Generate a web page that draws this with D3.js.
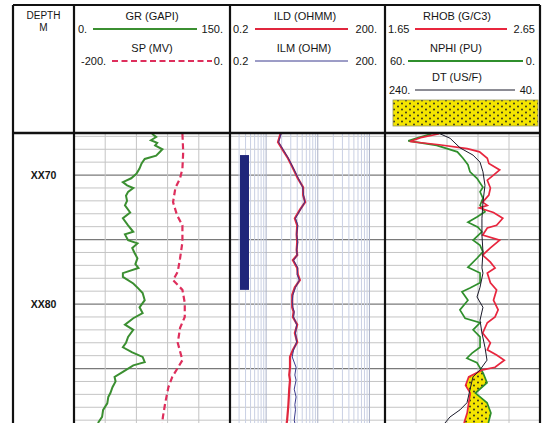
<!DOCTYPE html>
<html>
<head>
<meta charset="utf-8">
<script src="https://cdn.jsdelivr.net/npm/d3@7"></script>
<style>
  body { margin: 0; background: #fff; }
  text { font-family: "Liberation Sans", Arial, sans-serif; fill: #151515; }
</style>
</head>
<body>
<svg id="log" width="545" height="423"></svg>
<script>
// ---- Well log data (depth in metres below XX00) ----
const depthLabels = [70, 80];

const grDepth = [66.8, 67.05, 67.3, 67.5, 67.7, 68.0, 68.25, 68.5, 68.75, 69.1, 69.5, 69.9, 70.25, 70.55, 70.8, 71.0, 71.3, 71.6, 72.0, 72.35, 72.9, 73.35, 73.9, 74.4, 74.6, 75.05, 75.3, 75.65, 76.0, 76.45, 76.9, 77.2, 77.6, 77.9, 78.4, 78.8, 79.15, 79.7, 80.25, 80.7, 81.1, 81.6, 82.0, 82.55, 83.0, 83.35, 83.75, 84.1, 84.5, 84.75, 85.25, 85.65, 86.0, 86.45, 86.9, 87.2, 87.7, 88.2, 88.75, 89.22];
const grValues = [75, 79, 74, 80, 78, 85, 82, 79, 68, 65, 63, 60, 55, 47, 51, 57, 52, 50, 51, 49, 54, 47, 52, 57, 49, 52, 61, 56, 58, 61, 59, 62, 47, 47, 57, 62, 66, 68, 63, 66, 57, 49, 57, 52, 50, 47, 56, 66, 68, 57, 47, 39, 40, 37, 35, 33, 32, 28, 27, 23];

const spDepth = [66.8, 68.2, 69.5, 70.25, 71.0, 72.1, 73.1, 73.9, 75.2, 76.45, 77.5, 78.15, 78.9, 79.9, 81.0, 81.85, 83.0, 84.35, 84.95, 85.65, 86.45, 87.65, 88.75, 89.22];
const spValues = [-61, -60, -61, -64, -70, -73, -68, -61, -61, -64, -67, -73, -61, -58, -58, -64, -67, -61, -67, -74, -79, -83, -86, -87];

const resDepth = [66.8, 67.45, 68.05, 68.7, 69.45, 70.25, 70.95, 71.55, 72.1, 72.7, 73.35, 73.9, 74.6, 75.2, 75.8, 76.2, 76.6, 77.2, 77.7, 78.15, 78.7, 79.3, 79.8, 80.25, 80.6, 81.0, 81.6, 82.25, 82.95, 83.55, 84.1, 84.9, 85.5, 85.9, 86.6, 87.2, 87.8, 88.2, 89.0, 89.22];
const ildValues = [1.9, 1.7, 2.1, 2.65, 3.3, 4.1, 5.2, 5.2, 5.7, 4.5, 3.6, 4.0, 3.9, 4.0, 3.9, 4.0, 3.3, 4.0, 4.1, 4.5, 3.6, 3.2, 3.2, 3.2, 3.4, 3.3, 4.0, 3.6, 4.0, 3.3, 2.9, 2.9, 2.8, 2.9, 2.8, 2.75, 2.7, 2.65, 2.55, 2.5];
const ilmValues = [1.95, 1.75, 2.15, 2.7, 3.35, 4.2, 5.1, 5.3, 5.6, 4.6, 3.7, 4.1, 3.9, 4.1, 3.9, 4.0, 3.4, 4.1, 4.0, 4.4, 3.7, 3.3, 3.2, 3.3, 3.5, 3.4, 3.9, 3.7, 3.9, 3.4, 3.2, 3.8, 3.6, 3.8, 3.5, 3.8, 3.6, 3.7, 3.5, 3.6];

// perforated interval (top, base)
const perfInterval = [68.45, 78.9];

const rhobDepth = [66.8, 67.1, 67.4, 67.65, 67.95, 68.2, 68.7, 69.1, 69.6, 70.0, 70.4, 71.0, 71.55, 72.1, 72.35, 72.55, 72.9, 73.35, 73.9, 74.1, 74.65, 75.05, 75.65, 76.2, 76.75, 77.2, 77.6, 78.35, 78.9, 79.7, 80.45, 81.0, 81.45, 82.25, 83.0, 83.55, 83.95, 84.35, 84.9, 85.1, 85.65, 86.3, 86.9, 87.65, 88.45, 89.22];
const rhobValues = [2.0, 1.88, 1.81, 2.0, 2.18, 2.26, 2.31, 2.32, 2.39, 2.35, 2.31, 2.33, 2.32, 2.28, 2.31, 2.26, 2.35, 2.41, 2.37, 2.31, 2.28, 2.39, 2.33, 2.28, 2.33, 2.36, 2.31, 2.33, 2.37, 2.35, 2.38, 2.36, 2.31, 2.28, 2.33, 2.31, 2.37, 2.42, 2.36, 2.28, 2.19, 2.17, 2.2, 2.19, 2.18, 2.16];

const nphiDepth = [66.8, 67.1, 67.35, 67.7, 68.2, 68.7, 69.2, 69.75, 70.25, 70.95, 71.3, 71.8, 72.35, 72.85, 73.25, 73.65, 74.05, 74.4, 75.05, 75.45, 75.95, 76.45, 77.15, 77.6, 78.35, 78.75, 79.05, 79.7, 80.45, 81.1, 81.45, 82.0, 82.55, 83.35, 83.8, 84.2, 84.55, 84.95, 85.35, 86.1, 86.9, 87.65, 88.45, 89.22];
const nphiValues = [42, 47, 51, 40, 32, 29.8, 27.9, 27.1, 24.4, 22.1, 23.2, 22.1, 23.2, 21.3, 24.4, 27.9, 24.0, 22.5, 25.9, 23.2, 22.1, 24.4, 27.9, 23.2, 23.2, 27.1, 30.2, 27.9, 31.0, 29.0, 23.2, 25.9, 23.2, 23.2, 26.3, 28.3, 24.4, 23.2, 22.0, 20.5, 25, 20.5, 19.0, 20.0];

const dtDepth = [66.8, 67.15, 67.9, 68.45, 69.0, 69.75, 70.8, 72.1, 73.35, 74.65, 75.95, 77.2, 77.6, 78.7, 79.45, 80.25, 81.25, 82.25, 83.35, 84.35, 85.1, 85.65, 86.65, 87.65, 88.2, 88.75, 89.22];
const dtValues = [169, 156, 143, 126.5, 117.4, 113.6, 111, 113.6, 114.9, 114.9, 113.6, 114.9, 113.6, 117.4, 121.3, 113.6, 117.4, 114.9, 111, 108.4, 117.4, 126.5, 130.4, 134.2, 143.2, 156.1, 162.6];

// curve scale ranges (left, right)
const grRange = [0, 150];
const spRange = [-200, 0];
const resRange = [0.2, 200];
const rhobRange = [1.65, 2.65];
const nphiRange = [60, 0];
const dtRange = [240, 40];

// linear grid divisions for tracks 1 and 3
const grGrid = [30, 60, 90, 120];
const rhobGrid = [1.85, 2.05, 2.25, 2.45];

// ---- Layout ----
const svg = d3.select("#log");
const L = { left: 13, depthR: 74, t1: [74, 230], t2: [230, 385], t3: [385, 540], top: 5, head: 133, bottom: 423 };

const y = d3.scaleLinear().domain([66.74, 89.22]).range([L.head, L.bottom]);
const xGR = d3.scaleLinear().domain(grRange).range(L.t1);
const xSP = d3.scaleLinear().domain(spRange).range(L.t1);
const xRes = d3.scaleLog().domain(resRange).range(L.t2);
const xRHOB = d3.scaleLinear().domain(rhobRange).range(L.t3);
const xNPHI = d3.scaleLinear().domain(nphiRange).range(L.t3);
const xDT = d3.scaleLinear().domain(dtRange).range(L.t3);

const zip = (ds, vs) => ds.map((d, i) => ({ d, v: vs[i] }));

const defs = svg.append("defs");
[["c1", L.t1], ["c2", L.t2], ["c3", L.t3]].forEach(([id, r]) => {
  defs.append("clipPath").attr("id", id).append("rect")
    .attr("x", r[0] + 1).attr("y", L.head + 1)
    .attr("width", r[1] - r[0] - 2).attr("height", L.bottom - L.head);
});
const sand = defs.append("pattern").attr("id", "sand")
  .attr("patternUnits", "userSpaceOnUse").attr("width", 8).attr("height", 6);
sand.append("rect").attr("width", 8).attr("height", 6).attr("fill", "#f4e500");
sand.append("circle").attr("cx", 2).attr("cy", 1.5).attr("r", 0.9).attr("fill", "#222");
sand.append("circle").attr("cx", 6).attr("cy", 4.5).attr("r", 0.9).attr("fill", "#222");

svg.append("rect").attr("width", 545).attr("height", 423).attr("fill", "#fff");

// ---- Depth grid (every metre, heavier every 5 m) ----
const metres = d3.range(67, 90);
[L.t1, L.t2, L.t3].forEach(r => {
  svg.append("g").selectAll("line").data(metres).join("line")
    .attr("x1", r[0]).attr("x2", r[1])
    .attr("y1", d => y(d)).attr("y2", d => y(d))
    .attr("stroke", d => d % 5 === 0 ? "#7a7a7a" : "#c4c4c4")
    .attr("stroke-width", d => d % 5 === 0 ? 1.3 : 1);
});

// linear vertical grid
svg.append("g").selectAll("line").data(grGrid).join("line")
  .attr("x1", d => xGR(d)).attr("x2", d => xGR(d))
  .attr("y1", L.head).attr("y2", L.bottom)
  .attr("stroke", "#c4c4c4");
svg.append("g").selectAll("line").data(rhobGrid).join("line")
  .attr("x1", d => xRHOB(d)).attr("x2", d => xRHOB(d))
  .attr("y1", L.head).attr("y2", L.bottom)
  .attr("stroke", "#c4c4c4");

// logarithmic grid for resistivity
const logGrid = [];
[0.1, 1, 10, 100].forEach(k => d3.range(1, 10).forEach(m => {
  const v = +(m * k).toPrecision(3);
  if (v > resRange[0] && v < resRange[1]) logGrid.push(v);
}));
svg.append("g").selectAll("line").data(logGrid).join("line")
  .attr("x1", d => xRes(d)).attr("x2", d => xRes(d))
  .attr("y1", L.head).attr("y2", L.bottom)
  .attr("stroke", d => [1, 10, 100].includes(d) ? "#a9b1c8" : "#c9d0e4")
  .attr("stroke-width", 1);

// ---- Track 1: GR and SP ----
const t1 = svg.append("g").attr("clip-path", "url(#c1)");
t1.append("path").datum(zip(spDepth, spValues))
  .attr("d", d3.line().x(p => xSP(p.v)).y(p => y(p.d)))
  .attr("fill", "none").attr("stroke", "#de2e5c").attr("stroke-width", 2.2)
  .attr("stroke-dasharray", "6,3.5");
t1.append("path").datum(zip(grDepth, grValues))
  .attr("d", d3.line().x(p => xGR(p.v)).y(p => y(p.d)))
  .attr("fill", "none").attr("stroke", "#3b8f31").attr("stroke-width", 2);

// ---- Track 2: perforations, ILD, ILM ----
const t2 = svg.append("g").attr("clip-path", "url(#c2)");
t2.append("rect")
  .attr("x", L.t2[0] + 10).attr("width", 9)
  .attr("y", y(perfInterval[0])).attr("height", y(perfInterval[1]) - y(perfInterval[0]))
  .attr("fill", "#1f267a");
t2.append("path").datum(zip(resDepth, ildValues))
  .attr("d", d3.line().x(p => xRes(p.v)).y(p => y(p.d)))
  .attr("fill", "none").attr("stroke", "#e0263e").attr("stroke-width", 2.2);
t2.append("path").datum(zip(resDepth, ilmValues))
  .attr("d", d3.line().x(p => xRes(p.v)).y(p => y(p.d)))
  .attr("fill", "none").attr("stroke", "#3a3a8e").attr("stroke-width", 1);

// ---- Track 3: density / neutron crossover and sonic ----
function interp(ds, vs, d) {
  const i = d3.bisectLeft(ds, d);
  if (i <= 0) return vs[0];
  if (i >= ds.length) return vs[vs.length - 1];
  const t = (d - ds[i - 1]) / (ds[i] - ds[i - 1]);
  return vs[i - 1] + t * (vs[i] - vs[i - 1]);
}
const fillDepths = d3.range(66.8, 89.23, 0.02);
const crossover = fillDepths.map(d => {
  const xr = xRHOB(interp(rhobDepth, rhobValues, d));
  const xn = xNPHI(interp(nphiDepth, nphiValues, d));
  return { d, x0: xr, x1: Math.max(xr, xn) };
});
const t3 = svg.append("g").attr("clip-path", "url(#c3)");
t3.append("path").datum(crossover)
  .attr("d", d3.area().y(p => y(p.d)).x0(p => p.x0).x1(p => p.x1))
  .attr("fill", "url(#sand)");
t3.append("path").datum(zip(nphiDepth, nphiValues))
  .attr("d", d3.line().x(p => xNPHI(p.v)).y(p => y(p.d)))
  .attr("fill", "none").attr("stroke", "#2f8f2c").attr("stroke-width", 1.7);
t3.append("path").datum(zip(rhobDepth, rhobValues))
  .attr("d", d3.line().x(p => xRHOB(p.v)).y(p => y(p.d)))
  .attr("fill", "none").attr("stroke", "#e8263e").attr("stroke-width", 1.7);
t3.append("path").datum(zip(dtDepth, dtValues))
  .attr("d", d3.line().x(p => xDT(p.v)).y(p => y(p.d)))
  .attr("fill", "none").attr("stroke", "#1a1a2a").attr("stroke-width", 1);

// ---- Depth labels ----
svg.append("g").selectAll("text").data(depthLabels).join("text")
  .attr("x", (L.left + L.depthR) / 2).attr("y", d => y(d) + 4)
  .attr("text-anchor", "middle").attr("font-size", 10.5).attr("font-weight", "bold")
  .text(d => "XX" + d);

// ---- Header ----
const head = svg.append("g").attr("font-size", 11);
function label(x, yy, s, anchor, size) {
  head.append("text").attr("x", x).attr("y", yy).attr("text-anchor", anchor || "start")
    .attr("font-size", size || null).text(s);
}
function sample(x1, x2, yy, color, w, dash) {
  head.append("line").attr("x1", x1).attr("x2", x2).attr("y1", yy).attr("y2", yy)
    .attr("stroke", color).attr("stroke-width", w).attr("stroke-dasharray", dash || null);
}
label(43.5, 18.5, "DEPTH", "middle", 10);
label(43.5, 30.5, "M", "middle", 10);

label(152, 20, "GR (GAPI)", "middle");
label(78, 33, grRange[0] + ".");
sample(93, 197, 29, "#3b8f31", 2);
label(223, 33, grRange[1] + ".", "end");
label(152, 52, "SP (MV)", "middle");
label(81, 65, spRange[0] + ".");
sample(112, 212, 61, "#de2e5c", 2.2, "6,3.5");
label(223, 65, spRange[1] + ".", "end");

label(305, 20, "ILD (OHMM)", "middle");
label(233, 33, String(resRange[0]));
sample(255, 348, 29, "#e0263e", 2);
label(377, 33, resRange[1] + ".", "end");
label(304, 52, "ILM (OHM)", "middle");
label(233, 65, String(resRange[0]));
sample(255, 348, 61, "#3a3a8e", 1);
label(377, 65, resRange[1] + ".", "end");

label(457, 20, "RHOB (G/C3)", "middle");
label(388, 33, String(rhobRange[0]));
sample(415, 507, 29, "#e8263e", 2);
label(535, 33, String(rhobRange[1]), "end");
label(456, 52, "NPHI (PU)", "middle");
label(390, 65, nphiRange[0] + ".");
sample(408, 523, 61, "#2f8f2c", 2);
label(535, 65, nphiRange[1] + ".", "end");
label(457, 81, "DT (US/F)", "middle");
label(389, 94, dtRange[0] + ".");
sample(415, 515, 90, "#1a1a2a", 1);
label(535, 94, dtRange[1] + ".", "end");
head.append("rect").attr("x", 393).attr("y", 100).attr("width", 145).attr("height", 26)
  .attr("fill", "url(#sand)").attr("stroke", "#9a9a60").attr("stroke-width", 0.8);

// ---- Frame ----
const frame = svg.append("g").attr("stroke", "#111").attr("stroke-width", 2.2);
[L.left, L.depthR, L.t1[1], L.t2[1], L.t3[1]].forEach(x => {
  frame.append("line").attr("x1", x).attr("x2", x).attr("y1", L.top).attr("y2", L.bottom);
});
frame.append("line").attr("x1", L.left).attr("x2", L.t3[1]).attr("y1", L.top).attr("y2", L.top);
frame.append("line").attr("x1", L.left).attr("x2", L.t3[1]).attr("y1", L.head).attr("y2", L.head)
  .attr("stroke-width", 2.6);
</script>
</body>
</html>
